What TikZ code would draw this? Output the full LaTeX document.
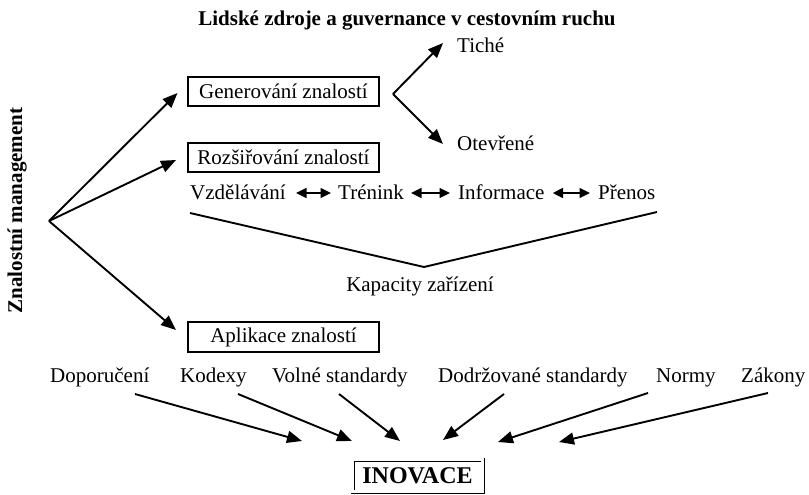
\documentclass[tikz,border=0pt]{standalone}
\usepackage{fontspec}
\setmainfont{Liberation Serif}
\usetikzlibrary{arrows.meta}
\begin{document}
\begin{tikzpicture}[x=1pt,y=-1pt,
  txt/.style={font=\fontsize{21}{25}\selectfont, inner sep=0pt},
  btxt/.style={font=\fontsize{21}{25}\selectfont\bfseries, inner sep=0pt},
  kbox/.style={draw, line width=1.1pt, font=\fontsize{21}{25}\selectfont, minimum width=191pt, minimum height=29pt, inner sep=0pt},
  arr/.style={line width=1.9pt, -{Triangle[length=15pt,width=12pt]}},
  dbl/.style={line width=1.7pt, {Triangle[length=10.5pt,width=10pt]}-{Triangle[length=10.5pt,width=10pt]}},
  vline/.style={line width=1.9pt}
]
\useasboundingbox (0,0) rectangle (809,495);
% title and side label
\node[btxt, anchor=base] (title) at (407,26) {Lidské zdroje a guvernance v cestovním ruchu};
\node[btxt, rotate=90, anchor=base] (km) at (22,210.5) {Znalostní management};
% boxes
\node[kbox] (gen) at (283.5,91.5) {Generování znalostí};
\node[kbox] (roz) at (283.5,157.5) {Rozšiřování znalostí};
\node[kbox, minimum height=30pt] (apl) at (283.5,337) {Aplikace znalostí};
% hub arrows
\coordinate (hub) at (49,221);
\coordinate (tg) at (177.5,93);
\coordinate (tr) at (176,160);
\coordinate (ta) at (176,330);
\draw[arr] (hub) -- (tg);
\draw[arr] (hub) -- (tr);
\draw[arr] (hub) -- (ta);
% fork
\node[txt, anchor=base west] (tiche) at (457,53) {Tiché};
\node[txt, anchor=base west] (otev) at (457,150) {Otevřené};
\coordinate (fork) at (393,94);
\coordinate (ft) at (443,43);
\coordinate (fo) at (443,144);
\draw[arr] (fork) -- (ft);
\draw[arr] (fork) -- (fo);
% row
\node[txt, anchor=base west] (vzd) at (190,199) {Vzdělávání};
\node[txt, anchor=base west] (tre) at (338,199) {Trénink};
\node[txt, anchor=base west] (inf) at (458,199) {Informace};
\node[txt, anchor=base west] (pre) at (598,199) {Přenos};
\draw[dbl] ([xshift=10pt,yshift=6pt]vzd.base east) -- ([xshift=-7pt,yshift=6pt]tre.base west);
\draw[dbl] ([xshift=7pt,yshift=6pt]tre.base east) -- ([xshift=-8pt,yshift=6pt]inf.base west);
\draw[dbl] ([xshift=8pt,yshift=6pt]inf.base east) -- ([xshift=-8pt,yshift=6pt]pre.base west);
% V line
\coordinate (vl) at (190,213);
\coordinate (vv) at (424,267);
\coordinate (vr) at (657,212);
\draw[vline] (vl) -- (vv) -- (vr);
\node[txt, anchor=base] (kap) at (420,291) {Kapacity zařízení};
% bottom labels
\node[txt, anchor=base west] (dop) at (50,382) {Doporučení};
\node[txt, anchor=base west] (kod) at (180,382) {Kodexy};
\node[txt, anchor=base west] (vol) at (272,382) {Volné standardy};
\node[txt, anchor=base west] (dod) at (438,382) {Dodržované standardy};
\node[txt, anchor=base west] (nor) at (656,382) {Normy};
\node[txt, anchor=base west] (zak) at (741,382) {Zákony};
\coordinate (s1) at (135,394); \coordinate (t1) at (302,441);
\coordinate (s2) at (238,394); \coordinate (t2) at (352,441);
\coordinate (s3) at (339,394); \coordinate (t3) at (400,441);
\coordinate (s4) at (504,394); \coordinate (t4) at (443,440);
\coordinate (s5) at (648,393); \coordinate (t5) at (498,442);
\coordinate (s6) at (768,393); \coordinate (t6) at (559,442);
\foreach \i in {1,...,6} {\draw[arr] (s\i) -- (t\i);}
% INOVACE
\node[draw, double, double distance=2.4pt, line width=0.8pt, minimum width=130pt, minimum height=32pt, inner sep=0pt,
  font=\fontsize{24}{28}\selectfont\bfseries] (ino) at (417.5,475.5) {INOVACE};
\end{tikzpicture}
\end{document}
